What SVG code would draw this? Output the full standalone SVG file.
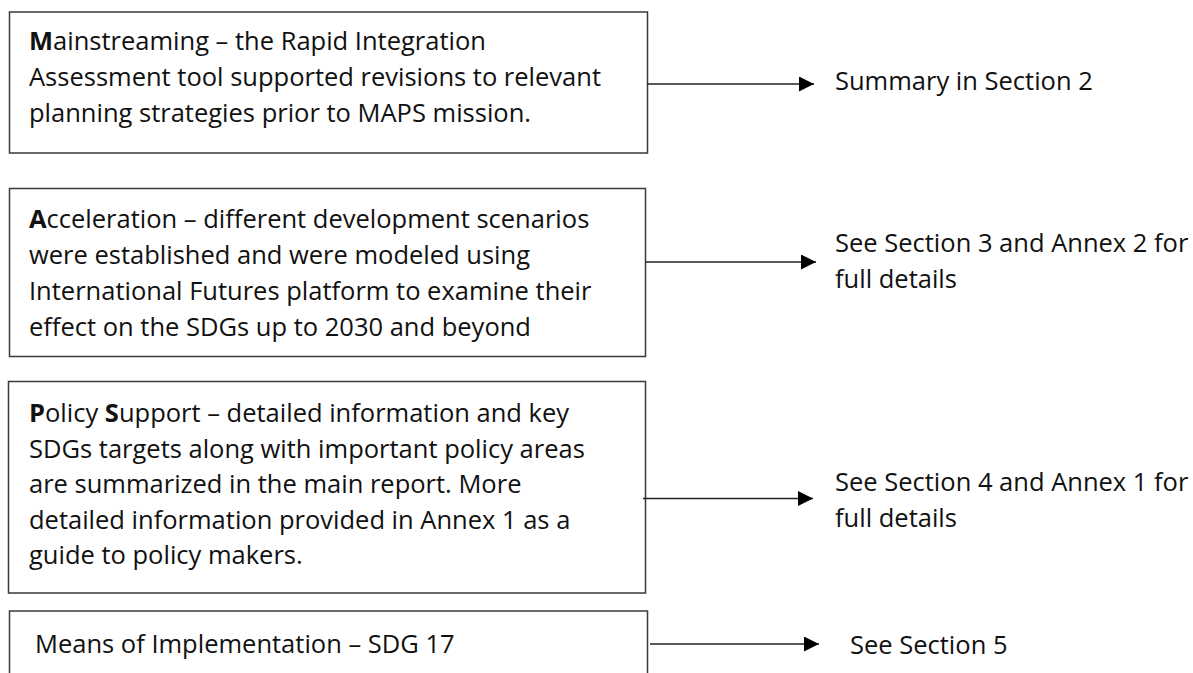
<svg xmlns="http://www.w3.org/2000/svg" width="1193" height="673" viewBox="0 0 1193 673">
<style>
.box{fill:#ffffff;stroke:#3a3a3a;stroke-width:1.5}
.t{font-family:"Open Sans","Liberation Sans",sans-serif;font-size:25.5px;fill:#111}
.b{font-weight:bold}
.c{stroke:#222;stroke-width:1.5;fill:none}
</style>
<defs>
<marker id="ah" markerUnits="userSpaceOnUse" markerWidth="16" markerHeight="16" refX="15" refY="7.5" orient="auto">
<path d="M0,0 L15,7.5 L0,15 Z" fill="#000"/>
</marker>
</defs>
<rect width="1193" height="673" fill="#ffffff"/>
<g id="node-mainstreaming">
<rect class="box" x="9.5" y="12" width="638" height="141"/>
<text class="t" x="29" y="50"><tspan class="b">M</tspan>ainstreaming – the Rapid Integration</text>
<text class="t" x="29" y="86">Assessment tool supported revisions to relevant</text>
<text class="t" x="29" y="122">planning strategies prior to MAPS mission.</text>
</g>
<g id="node-acceleration">
<rect class="box" x="9.5" y="188.5" width="636" height="168"/>
<text class="t" x="29" y="228"><tspan class="b">A</tspan>cceleration – different development scenarios</text>
<text class="t" x="29" y="264">were established and were modeled using</text>
<text class="t" x="29" y="300">International Futures platform to examine their</text>
<text class="t" x="29" y="336">effect on the SDGs up to 2030 and beyond</text>
</g>
<g id="node-policy">
<rect class="box" x="8.5" y="381.5" width="637" height="211.5"/>
<text class="t" x="29" y="422"><tspan class="b">P</tspan>olicy <tspan class="b">S</tspan>upport – detailed information and key</text>
<text class="t" x="29" y="457.5">SDGs targets along with important policy areas</text>
<text class="t" x="29" y="493">are summarized in the main report. More</text>
<text class="t" x="29" y="528.5">detailed information provided in Annex 1 as a</text>
<text class="t" x="29" y="564">guide to policy makers.</text>
</g>
<g id="node-means">
<rect class="box" x="9.5" y="611" width="638" height="80"/>
<text class="t" x="35" y="653">Means of Implementation – SDG 17</text>
</g>
<g id="label-summary">
<text class="t" x="835" y="90">Summary in Section 2</text>
</g>
<g id="label-section3">
<text class="t" x="835" y="252">See Section 3 and Annex 2 for</text>
<text class="t" x="835" y="288">full details</text>
</g>
<g id="label-section4">
<text class="t" x="835" y="491">See Section 4 and Annex 1 for</text>
<text class="t" x="835" y="527">full details</text>
</g>
<g id="label-section5">
<text class="t" x="850" y="654">See Section 5</text>
</g>
<g id="connectors">
<line class="c" x1="647" y1="84" x2="814" y2="84" marker-end="url(#ah)"/>
<line class="c" x1="646" y1="262" x2="816" y2="262" marker-end="url(#ah)"/>
<line class="c" x1="643" y1="498.5" x2="813" y2="498.5" marker-end="url(#ah)"/>
<line class="c" x1="650" y1="644" x2="819" y2="644" marker-end="url(#ah)"/>
</g>
</svg>
